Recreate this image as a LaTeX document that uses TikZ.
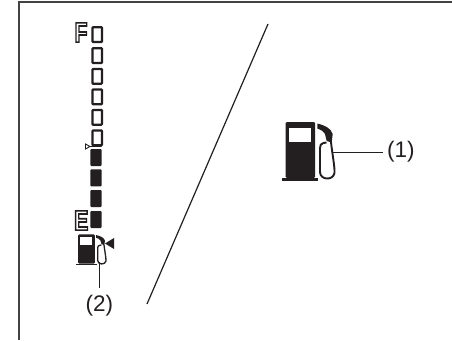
\documentclass[tikz,border=0pt]{standalone}
\usepackage{fontspec}
\setmainfont{Liberation Sans}
\definecolor{ink}{HTML}{231F20}
\newcommand{\outlinedtext}[1]{\special{pdf:code q 0.137 0.122 0.125 RG 1 Tr 1.7 w}#1\special{pdf:code Q}}
\tikzset{
  x=1pt,y=-1pt,
  frameline/.style={draw=ink!85,line width=1.7pt},
  thinline/.style={draw=ink,line width=1.2pt},
  gaugeempty/.style={draw=ink,line width=2.2pt,rounded corners=0.7pt,fill=white},
  gaugefull/.style={fill=ink,rounded corners=1pt},
  label/.style={font=\fontsize{22.5}{22.5}\selectfont,text=ink,inner sep=0pt},
  gaugeletter/.style={font=\bfseries\fontsize{28}{28}\selectfont,inner sep=0pt,xscale=.76},
  pics/pump/.style={code={
    \fill[ink,rounded corners=1.2pt] (285.7,122) -- (315,122) -- (315,178) -- (285.7,178) -- cycle;
    \fill[ink] (282,178) rectangle (318,181);
    \fill[white] (289,127.7) rectangle (310.7,141.7);
    \fill[ink] (317.3,123.5) .. controls (324,125) and (331,128) .. (332.7,134) -- (331.7,142.5) -- (326.7,141) -- (325,134) .. controls (323,131) and (320,129) .. (317.3,128.5) -- cycle;
    \draw[ink] (326.5,142.5) -- (323.5,143) .. controls (321,143.5) and (320,145) .. (320,148) -- (320,172) .. controls (320,180) and (333,181) .. (334.5,173) .. controls (335,168) and (332,152) .. (331,142);
  }}
}
\begin{document}
\begin{tikzpicture}
\useasboundingbox (0,0) rectangle (452,340);
\fill[white] (0,0) rectangle (452,340);
\coordinate (fl) at (19,340);
\coordinate (ftl) at (19,2);
\coordinate (ftr) at (452,2);
\draw[frameline] (fl) -- (ftl) -- (ftr);
\coordinate (sa) at (268,24);
\coordinate (sb) at (147,304);
\draw[thinline] (sa) -- (sb);
% gauge
\foreach \n/\t in {e1/25,e2/46,e3/66.7,e4/87.3,e5/107.7,e6/128.3}{
  \node[gaugeempty,inner sep=0pt,minimum width=9.4pt,minimum height=14.8pt,anchor=north west] (\n) at (91.4,\t+1.1) {};
}
\foreach \n/\t in {f1/149,f2/169.3,f3/190,f4/211}{
  \fill[gaugefull] (90.3,\t) rectangle (101.7,\t+17);
}
\draw[ink,line width=.9pt,fill=white] (101.5,146.5) -- (90,146.5) -- (85.5,144) -- (85.5,149) -- (90,146.5);
\node[gaugeletter] (F) at (81,32.5) {\outlinedtext{F}};
\node[gaugeletter] (E) at (81.3,220.5) {\outlinedtext{E}};
% large pump
\pic[line width=1.9pt] {pump};
\node[label,anchor=west] (n1) at (387,152) {(1)};
\coordinate (p1) at (333,152.3);
\draw[thinline] (p1) -- (383,152.3);
% small pump
\begin{scope}[shift={(-84.7,170.25)},x=.57pt,y=-.525pt]
\pic[line width=1.3pt] {pump};
\end{scope}
\fill[ink] (105,243.5) -- (114,238) -- (114,249) -- cycle;
\node[label] (n2) at (99.3,305.7) {(2)};
\coordinate (p2) at (99.3,262);
\draw[thinline] (p2) -- (99.3,288);
\end{tikzpicture}
\end{document}
